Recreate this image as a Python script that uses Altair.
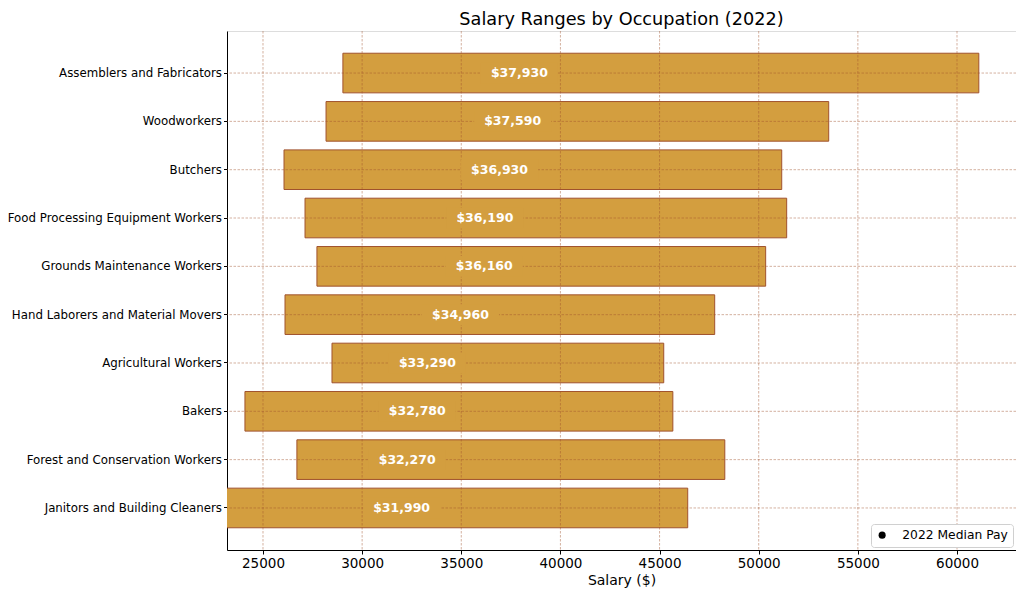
import altair as alt
import pandas as pd

occupations = [
    "Assemblers and Fabricators",
    "Woodworkers",
    "Butchers",
    "Food Processing Equipment Workers",
    "Grounds Maintenance Workers",
    "Hand Laborers and Material Movers",
    "Agricultural Workers",
    "Bakers",
    "Forest and Conservation Workers",
    "Janitors and Building Cleaners",
]
low_pay = [29030, 28180, 26060, 27120, 27720, 26110, 28480, 24090, 26710, 23000]
high_pay = [61100, 53530, 51160, 51410, 50350, 47780, 45210, 45670, 48290, 46420]
median_pay = [37930, 37590, 36930, 36190, 36160, 34960, 33290, 32780, 32270, 31990]
x_ticks = [25000, 30000, 35000, 40000, 45000, 50000, 55000, 60000]

df = pd.DataFrame({
    "occupation": occupations,
    "low": low_pay,
    "high": high_pay,
    "median": median_pay,
})
df["label"] = df["median"].map(lambda v: f"${v:,}")
df["series"] = "2022 Median Pay"
ticks_df = pd.DataFrame({"tick": x_ticks})

FONT = "DejaVu Sans"
BAR = "#D39E3F"
EDGE = "#A0522D"

xscale = alt.Scale(domain=[23185, 62975], nice=False, zero=False)
yscale = alt.Scale(domain=occupations, paddingInner=0.18, paddingOuter=0.46)

xaxis = alt.Axis(values=x_ticks, grid=False, title="Salary ($)", format="d",
                 labelFont=FONT, labelFontSize=13.5, labelColor="#000",
                 titleFont=FONT, titleFontSize=14, titleFontWeight="normal",
                 titleColor="#000", domainColor="#000", tickColor="#000",
                 tickSize=4, labelPadding=2, titlePadding=4)
yaxis = alt.Axis(grid=False, title=None, labelFont=FONT, labelFontSize=11.8,
                 labelColor="#000", domainColor="#000", tickColor="#000",
                 tickSize=3.5, labelPadding=2, labelLimit=400)

base = alt.Chart(df)

bars = base.mark_bar(fill=BAR, stroke=EDGE, strokeWidth=1, clip=True).encode(
    x=alt.X("low:Q", scale=xscale, axis=xaxis),
    x2="high:Q",
    y=alt.Y("occupation:N", scale=yscale, axis=yaxis, sort=occupations),
)

vgrid = alt.Chart(ticks_df).mark_rule(
    stroke=EDGE, strokeOpacity=0.5, strokeWidth=0.9, strokeDash=[2.5, 1.5]
).encode(x=alt.X("tick:Q", scale=xscale))

hgrid = base.mark_rule(
    stroke=EDGE, strokeOpacity=0.5, strokeWidth=0.9, strokeDash=[2.5, 1.5]
).encode(y=alt.Y("occupation:N", scale=yscale, sort=occupations))

box = base.mark_point(
    shape="M-1,-0.27L1,-0.27L1,0.27L-1,0.27Z", filled=True, fill=BAR,
    opacity=1, size=5929, strokeWidth=0
).encode(
    x=alt.X("median:Q", scale=xscale),
    y=alt.Y("occupation:N", scale=yscale, sort=occupations),
)

text = base.mark_text(
    color="white", font=FONT, fontSize=12.5, fontWeight="bold", align="center",
    baseline="middle"
).encode(
    x=alt.X("median:Q", scale=xscale),
    y=alt.Y("occupation:N", scale=yscale, sort=occupations),
    text="label:N",
)

legend_pts = base.mark_point(filled=True, opacity=0, size=40).encode(
    x=alt.X("median:Q", scale=xscale),
    y=alt.Y("occupation:N", scale=yscale, sort=occupations),
    color=alt.Color(
        "series:N",
        scale=alt.Scale(range=["#000000"]),
        legend=alt.Legend(
            title=None, orient="bottom-right", offset=3,
            symbolType="circle", symbolOpacity=1, symbolFillColor="#000",
            symbolStrokeWidth=0, symbolSize=50, labelOffset=14,
            labelFont=FONT, labelFontSize=12.3, labelColor="#000",
            strokeColor="#d0d0d0", fillColor="white", padding=5,
            cornerRadius=3,
        ),
    ),
)

chart = alt.layer(bars, vgrid, hgrid, box, text, legend_pts).properties(
    width=789,
    height=519,
    padding={"left": 219, "top": 23, "right": 0, "bottom": 40},
    autosize=alt.AutoSizeParams(type="none"),
    title=alt.TitleParams(
        "Salary Ranges by Occupation (2022)", font=FONT, fontSize=17.7,
        fontWeight="normal", color="#000", anchor="middle", offset=2,
    ),
).configure_view(stroke=None).configure(background="white")

chart.save("out.html", embed_options={"renderer": "svg", "actions": False})
